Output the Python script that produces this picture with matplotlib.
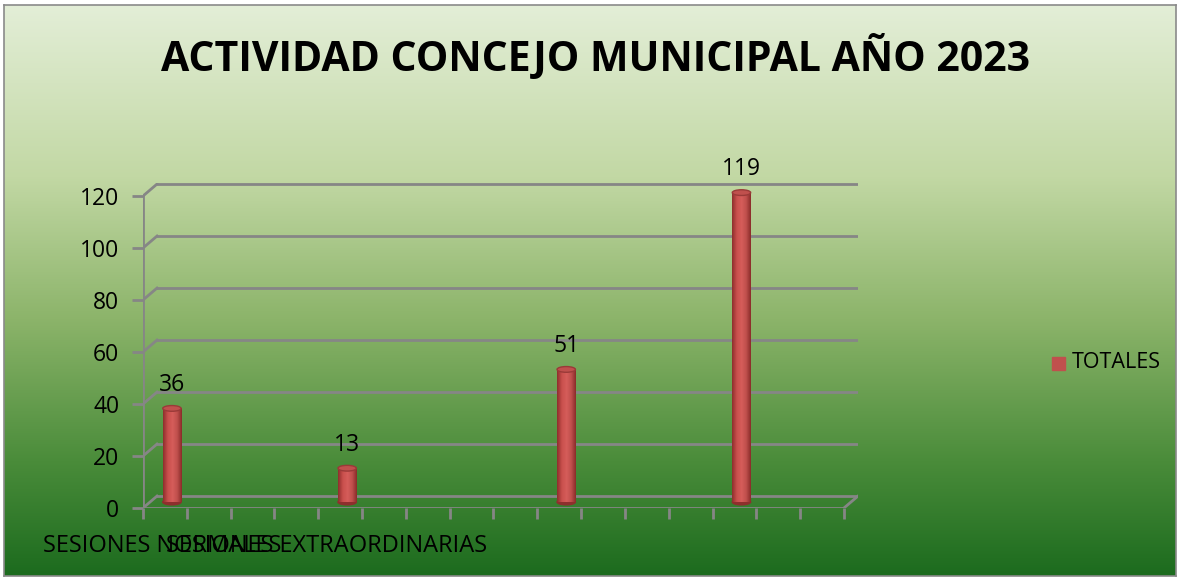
import numpy as np
import matplotlib
matplotlib.use("Agg")
import matplotlib.pyplot as plt
from matplotlib.patches import Ellipse, Rectangle
from matplotlib.colors import LinearSegmentedColormap

plt.rcParams['font.family'] = ['Open Sans', 'DejaVu Sans']

# data
title = "ACTIVIDAD CONCEJO MUNICIPAL AÑO 2023"
n_cats = 16
bar_pos = [0, 4, 9, 13]
bar_vals = [36, 13, 51, 119]
cat_labels = {0: "SESIONES NORMALES", 4: "SESIONES EXTRAORDINARIAS"}
series_name = "TOTALES"
yticks = [0, 20, 40, 60, 80, 100, 120]

W, H = 1185, 578
fig = plt.figure(figsize=(W / 100, H / 100), dpi=100)
fig.patch.set_facecolor('white')

# gradient background
bg = fig.add_axes([4 / W, 1 - 576 / H, 1172 / W, 571 / H])
bg_cmap = LinearSegmentedColormap.from_list(
    'bg', [(0, '#e3eed7'), (0.3, '#c2d8a4'), (0.55, '#8cb46a'), (0.8, '#4a8c3a'), (1, '#1c6b1e')])
bg.imshow(np.linspace(0, 1, 256).reshape(-1, 1), aspect='auto', cmap=bg_cmap, extent=[0, 1, 0, 1])
bg.set_xticks([]); bg.set_yticks([])
for s in bg.spines.values():
    s.set_color('#8a8a8a'); s.set_linewidth(1.2)

fig.text(596 / W, 1 - 58 / H, title, ha='center', va='center', fontsize=29.5, fontweight='bold')

# plot area
ax = fig.add_axes([143 / W, 1 - 508 / H, 715 / W, 325 / H])
ax.patch.set_alpha(0)
dx, dy = 0.32, 4.6
ax.set_xlim(0, n_cats + dx)
ax.set_ylim(0, 125)
for s in ax.spines.values():
    s.set_visible(False)

gc = '#868686'
lw = 2
for v in yticks:
    ax.plot([dx, n_cats + dx], [v + dy, v + dy], color=gc, lw=lw, zorder=1)
    ax.plot([0, dx], [v, v + dy], color=gc, lw=lw, zorder=1)
ax.plot([0, 0], [0, 120], color=gc, lw=lw, zorder=1)
ax.plot([0, n_cats], [0, 0], color=gc, lw=lw, zorder=1)
ax.plot([n_cats, n_cats + dx], [0, dy], color=gc, lw=lw, zorder=1)

ax.set_yticks(yticks)
ax.set_yticklabels([str(v) for v in yticks])
ax.tick_params(axis='y', length=8, width=2, color=gc, labelsize=16.5, pad=9)
ax.set_xticks(range(n_cats + 1))
ax.set_xticklabels([])
ax.tick_params(axis='x', which='major', length=8, width=2, color=gc)

label_x = {0: 0.43, 4: 4.2}
for i, lab in cat_labels.items():
    ax.text(label_x[i], -14.5, lab, ha='center', va='center', fontsize=17, clip_on=False)

# cylinder bars
cyl = LinearSegmentedColormap.from_list('cyl', ['#8e2f2d', '#c84f4c', '#d65d5a', '#c0504d', '#8a2c2a'])
bw = 0.42
for p, v in zip(bar_pos, bar_vals):
    cx = p + 0.5 + dx / 2
    x0, x1 = cx - bw / 2, cx + bw / 2
    y0 = dy / 2
    ax.add_patch(Ellipse((cx, y0), bw, 2.2, color='#8e2f2d', zorder=3))
    ax.imshow(np.linspace(0, 1, 64).reshape(1, -1), aspect='auto', cmap=cyl,
              extent=[x0, x1, y0, y0 + v], zorder=4)
    ax.add_patch(Ellipse((cx, y0 + v), bw, 2.2, facecolor='#c0504d', edgecolor='#9a3a38', lw=1, zorder=5))
    ax.text(cx, y0 + v + 4.5, str(v), ha='center', va='bottom', fontsize=16.5, zorder=6)
ax.set_xlim(0, n_cats + dx)
ax.set_ylim(0, 125)

# legend
fig.patches.append(Rectangle((1052 / W, 1 - 370 / H), 13 / W, 13 / H, color='#c0504d',
                             transform=fig.transFigure, figure=fig))
fig.text(1072 / W, 1 - 363 / H, series_name, ha='left', va='center', fontsize=15.5)

fig.savefig('out.png', dpi=100)
